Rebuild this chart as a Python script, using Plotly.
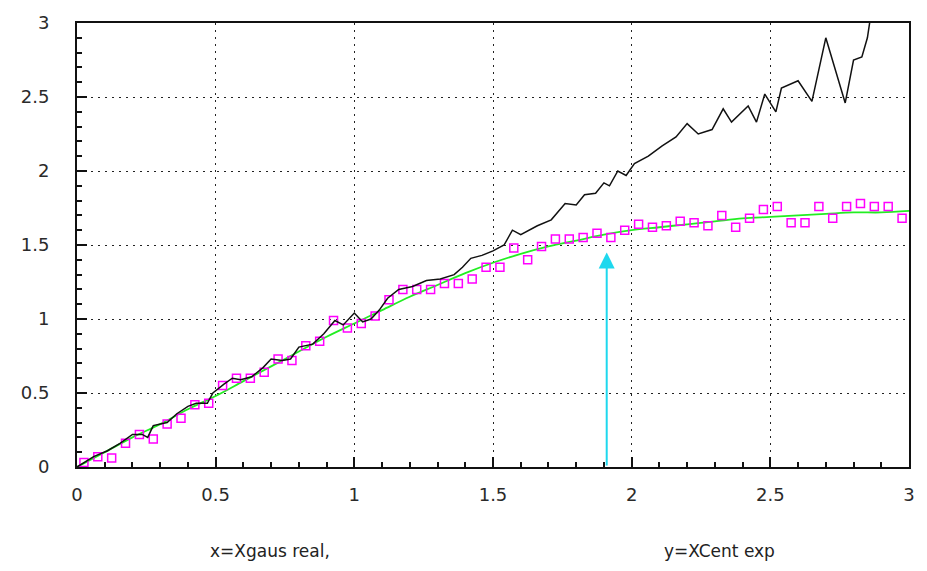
import plotly.graph_objects as go

# Raw profile (black), binned means (magenta), fitted curve (green)
black_x = [0, 0.06, 0.11, 0.155, 0.2, 0.235, 0.255, 0.275, 0.325, 0.36, 0.40, 0.43, 0.47, 0.49,
           0.53, 0.56, 0.59, 0.63, 0.67, 0.70, 0.74, 0.77, 0.80, 0.85, 0.89, 0.93, 0.96, 1.0,
           1.03, 1.06, 1.09, 1.12, 1.16, 1.21, 1.26, 1.31, 1.36, 1.39, 1.42, 1.46, 1.50, 1.54,
           1.57, 1.60, 1.66, 1.71, 1.76, 1.80, 1.83, 1.87, 1.90, 1.92, 1.95, 1.98, 2.01, 2.06,
           2.11, 2.16, 2.20, 2.24, 2.29, 2.33, 2.36, 2.42, 2.45, 2.48, 2.52, 2.54, 2.60, 2.65,
           2.70, 2.77, 2.80, 2.83, 2.85, 2.87]
black_y = [0, 0.07, 0.11, 0.16, 0.22, 0.22, 0.20, 0.28, 0.30, 0.36, 0.41, 0.43, 0.43, 0.50,
           0.56, 0.60, 0.59, 0.61, 0.67, 0.73, 0.72, 0.73, 0.81, 0.83, 0.90, 0.99, 0.96, 1.04,
           0.98, 1.00, 1.06, 1.14, 1.20, 1.22, 1.26, 1.27, 1.30, 1.35, 1.41, 1.43, 1.46, 1.50,
           1.60, 1.57, 1.63, 1.67, 1.78, 1.77, 1.84, 1.85, 1.92, 1.90, 2.00, 1.97, 2.05, 2.10,
           2.17, 2.23, 2.32, 2.25, 2.28, 2.42, 2.33, 2.44, 2.33, 2.52, 2.40, 2.56, 2.61, 2.47,
           2.90, 2.46, 2.75, 2.77, 2.90, 3.15]

bin_x = [0.025 + 0.05 * i for i in range(60)]
bin_y = [0.03, 0.07, 0.06, 0.16, 0.22, 0.19, 0.29, 0.33, 0.42, 0.43,
         0.55, 0.60, 0.60, 0.64, 0.73, 0.72, 0.82, 0.85, 0.99, 0.94,
         0.97, 1.02, 1.13, 1.20, 1.20, 1.20, 1.24, 1.24, 1.27, 1.35,
         1.35, 1.48, 1.40, 1.49, 1.54, 1.54, 1.55, 1.58, 1.55, 1.60,
         1.64, 1.62, 1.63, 1.66, 1.65, 1.63, 1.70, 1.62, 1.68, 1.74,
         1.76, 1.65, 1.65, 1.76, 1.68, 1.76, 1.78, 1.76, 1.76, 1.68]

fit_x = [0, 0.1, 0.2, 0.3, 0.4, 0.5, 0.6, 0.7, 0.8, 0.9, 1.0, 1.1, 1.2, 1.3, 1.4, 1.5,
         1.6, 1.7, 1.8, 1.9, 2.0, 2.1, 2.2, 2.3, 2.4, 2.5, 2.6, 2.7, 2.8, 2.9, 3.0]
fit_y = [0, 0.10, 0.20, 0.29, 0.39, 0.48, 0.58, 0.68, 0.78, 0.88, 0.97, 1.06, 1.15, 1.23,
         1.31, 1.38, 1.44, 1.49, 1.53, 1.57, 1.60, 1.62, 1.64, 1.66, 1.68, 1.69, 1.70, 1.71,
         1.72, 1.72, 1.73]

# Cut position marker
arrow_x = 1.91
arrow_y = 1.45

tick_vals = [0, 0.5, 1, 1.5, 2, 2.5, 3]
tick_text = ["0", "0.5", "1", "1.5", "2", "2.5", "3"]

font_family = "DejaVu Sans"

fig = go.Figure()
fig.add_trace(go.Scatter(x=fit_x, y=fit_y, mode="lines",
                         line=dict(color="#22ee22", width=1.8), line_shape="spline"))
fig.add_trace(go.Scatter(x=bin_x, y=bin_y, mode="markers",
                         marker=dict(symbol="square-open", size=8, color="#ff00ff",
                                     line=dict(width=1.5, color="#ff00ff"))))
fig.add_trace(go.Scatter(x=black_x, y=black_y, mode="lines",
                         line=dict(color="#111111", width=1.5)))

fig.add_annotation(x=arrow_x, y=arrow_y, ax=arrow_x, ay=0, xref="x", yref="y",
                   axref="x", ayref="y", showarrow=True, arrowhead=2, arrowsize=1.6,
                   arrowwidth=2, arrowcolor="#1ed8ee", text="")

fig.add_annotation(x=0.157, y=-0.19, xref="paper", yref="paper",
                   xanchor="left", yanchor="middle",
                   text="x=Xgaus real,", showarrow=False,
                   font=dict(family=font_family, size=17, color="#222222"))
fig.add_annotation(x=0.841, y=-0.19, xref="paper", yref="paper",
                   xanchor="right", yanchor="middle",
                   text="y=XCent exp", showarrow=False,
                   font=dict(family=font_family, size=17, color="#222222"))

axis_common = dict(
    range=[0, 3], showline=True, linecolor="#111111", linewidth=2, mirror=True,
    showgrid=True, gridcolor="#222222", gridwidth=1, griddash="2px,5px",
    zeroline=False, ticks="inside", ticklen=10, tickwidth=1.5, tickcolor="#111111",
    tickvals=tick_vals, ticktext=tick_text,
    tickfont=dict(family=font_family, size=18, color="#2a2a2a"),
    minor=dict(ticks="inside", ticklen=5, tickwidth=1.5, tickcolor="#111111",
               dtick=0.1, showgrid=False),
)

fig.update_xaxes(**axis_common, ticklabelstandoff=10)
fig.update_yaxes(**axis_common, ticklabelstandoff=22)

fig.update_layout(
    width=927, height=571,
    margin=dict(l=77, r=18, t=18, b=104),
    paper_bgcolor="white", plot_bgcolor="white",
    showlegend=False,
)

fig.write_html("out.html")
